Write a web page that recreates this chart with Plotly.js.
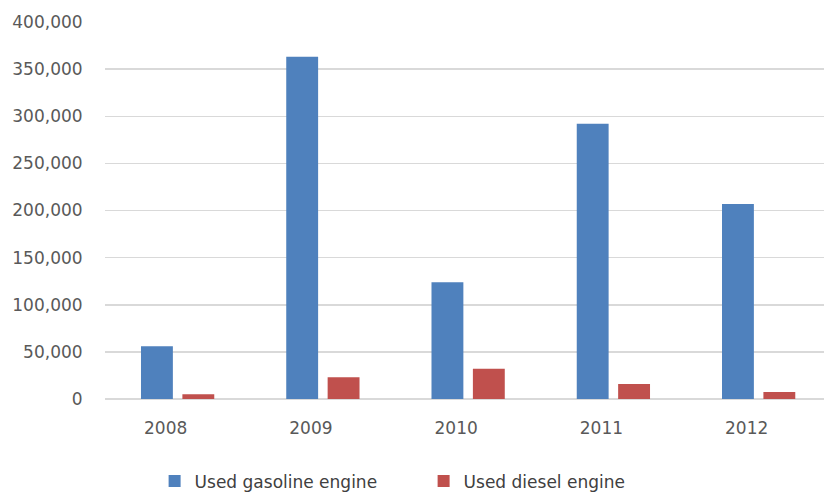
<!DOCTYPE html>
<html>
<head>
<meta charset="utf-8">
<script src="https://cdn.plot.ly/plotly-3.0.1.min.js"></script>
<style>html,body{margin:0;padding:0;background:#fff;}#chart{width:824px;height:493px;}</style>
</head>
<body>
<div id="chart"></div>
<script>
const years = ["2008", "2009", "2010", "2011", "2012"];
const gasolineName = "Used gasoline engine";
const dieselName = "Used diesel engine";
const gasoline = [56000, 363000, 124000, 292000, 207000];
const diesel = [5000, 23000, 32000, 16000, 7500];
const yTicks = [0, 50000, 100000, 150000, 200000, 250000, 300000, 350000, 400000];
const yTickText = ["0", "50,000", "100,000", "150,000", "200,000", "250,000", "300,000", "350,000", "400,000"];

const font = "DejaVu Sans, sans-serif";
const data = [
  {type: "bar", x: years, y: gasoline, name: gasolineName, marker: {color: "#4F81BD"}, hoverinfo: "skip"},
  {type: "bar", x: years, y: diesel, name: dieselName, marker: {color: "#C0504D"}, hoverinfo: "skip"}
];
const layout = {
  width: 824, height: 493,
  margin: {l: 105, r: 0, t: 22, b: 94, autoexpand: false},
  paper_bgcolor: "#fff", plot_bgcolor: "#fff",
  barmode: "group", bargap: 0.43, bargroupgap: 0.23,
  font: {family: font, size: 17, color: "#595959"},
  xaxis: {
    type: "category", range: [-0.5, 4.45], showgrid: false, zeroline: false, showline: false,
    ticks: "outside", ticklen: 14, tickcolor: "rgba(0,0,0,0)", ticklabelshift: -12,
    tickfont: {family: font, size: 17, color: "#595959"}
  },
  yaxis: {
    range: [0, 400000], tickvals: yTicks, ticktext: yTickText,
    showgrid: true, gridcolor: "#D9D9D9", gridwidth: 1.5, zeroline: true, zerolinecolor: "#D9D9D9", zerolinewidth: 1.5,
    ticks: "outside", ticklen: 18, tickcolor: "rgba(0,0,0,0)",
    tickfont: {family: font, size: 17, color: "#595959"}
  },
  showlegend: true,
  legend: {
    orientation: "h", x: 0.069, xanchor: "left", y: -0.171, yanchor: "top",
    entrywidth: 224, entrywidthmode: "pixels",
    font: {family: font, size: 17, color: "#404040"}
  }
};
Plotly.newPlot("chart", data, layout, {displayModeBar: false, staticPlot: true});
</script>
</body>
</html>
